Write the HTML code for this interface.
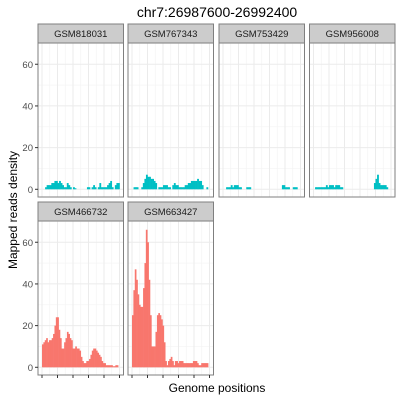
<!DOCTYPE html>
<html><head><meta charset="utf-8"><style>
body{margin:0;background:#fff;width:400px;height:400px;overflow:hidden}
svg{font-family:"Liberation Sans",sans-serif}
</style></head><body>
<svg id="c" width="400" height="400" xmlns="http://www.w3.org/2000/svg">
<text x="217" y="17" text-anchor="middle" font-size="14" fill="#000">chr7:26987600-26992400</text>
<text x="0" y="0" transform="translate(17,210) rotate(-90)" text-anchor="middle" font-size="12" fill="#000">Mapped reads density</text>
<text x="217" y="392" text-anchor="middle" font-size="12" fill="#000">Genome positions</text>
</svg>
<script>
const panelNames=["GSM818031","GSM767343","GSM753429","GSM956008","GSM466732","GSM663427"];
const yTicks=[0,20,40,60];
const s1=[0,0,1,2,2,2,3,3,4,4,3,4,3,2,1,1,3,2,1,0,1,0.5,0,0,0,0,0,0,0,1,1,0,1,2,1,0,1,3,1,1,1,1,2,3,4,1,0,2,3,3];
const s2=[0,1,1,1,0,0,1,3,5,7,6,6,5,5,4,3,0,1,1,1,2,2,2,1,1,0,2,3,2,2,1,1,1,1,2,2,3,3,4,4,4,4,5,4,4,2,0,0,1,0];
const s3=[0,0,1,1,1,2,1,2,2,2,1,1,0,0,0,1,1,1,0,0,0,0,0,0,0,0,0,0,0,0,0,0,0,0,0,0,0,0,2,2,1,1,1,0,0,1,1,1,0,0];
const s4=[0,1,1,1,1,1,1,1,2,1,2,2,2,1,2,2,2,1,1,0,0,0,0,0,0,0,0,0,0,0,0,0,0,0,0,0,0,0,0,3,5,7,3,2,2,2,2,1,0,0];
const s5=[11,12,13,14,12,13,13,14,16,20,24,24,18,14,9,9,12,14,17,16,14,13,9,9,10,9,9,8,5,3,2,2,3,3,4,6,8,9,9,8,7,6,5,3,2,2,1,1,1,1,1,0.5,0.5,1,1,0];
const s6=[25,37,47,42,35,30,29,29,38,50,66,60,42,25,10,10,10,17,25,26,25,23,20,12,3,1,3,4,5,3,1,3,3,2,3,3,3,2,2,2,2,2,2,2,3,3,3,2,1,1,2,2,2,2,2,0];
const series=[s1,s2,s3,s4,s5,s6];
const colors=["#00bfc4","#00bfc4","#00bfc4","#00bfc4","#f8766d","#f8766d"];
const colX=[38,128,219,309.5], pw=85.5, ph=154;
const rowY=[43,221], stripH=19;
const ymin=-3.7, ymax=70.2;
const svg=document.getElementById('c');
const NS="http://www.w3.org/2000/svg";
function mk(t,a,p){const e=document.createElementNS(NS,t);for(const k in a)e.setAttribute(k,a[k]);(p||svg).appendChild(e);return e;}
panelNames.forEach((nm,i)=>{
  const x0=colX[i%4], y0=rowY[Math.floor(i/4)];
  const g=mk('g',{});
  
  
  const ys=v=>y0+ph-(v-ymin)/(ymax-ymin)*ph;
  const xs=f=>x0+4+f*(pw-8);
  // minor grid
  for(let v=10;v<=70;v+=20) mk('line',{x1:x0,x2:x0+pw,y1:ys(v),y2:ys(v),stroke:'#f3f3f3','stroke-width':0.6},g);
  for(let k=0;k<=10;k++){const xx=xs(k/10);mk('line',{x1:xx,x2:xx,y1:y0,y2:y0+ph,stroke:k%2?'#f3f3f3':'#ebebeb','stroke-width':k%2?0.6:1},g);}
  yTicks.forEach(v=>mk('line',{x1:x0,x2:x0+pw,y1:ys(v),y2:ys(v),stroke:'#ebebeb','stroke-width':1},g));
  const d=series[i], n=d.length, bw=(pw-8)/n;
  d.forEach((v,j)=>{
    const r=mk('rect',{x:xs(j/n),y:ys(v),width:bw+0.3,height:Math.max(0,ys(0)-ys(v)),fill:colors[i]},g);
    
    
  });
  mk('rect',{x:x0,y:y0,width:pw,height:ph,fill:'none',stroke:'#7f7f7f','stroke-width':1},g);
  const st=mk('rect',{x:x0,y:y0-stripH,width:pw,height:stripH,fill:'#cccccc',stroke:'#7f7f7f','stroke-width':1},g);
  
  
  const t=mk('text',{x:x0+pw/2,y:y0-stripH/2+3.5,'text-anchor':'middle','font-size':9.5,fill:'#1a1a1a'},g);
  t.textContent=nm;
  
  
  if(i%4===0){
    yTicks.forEach(v=>{
      mk('line',{x1:x0-3,x2:x0,y1:ys(v),y2:ys(v),stroke:'#333','stroke-width':1},g);
      const tl=mk('text',{x:x0-5,y:ys(v)+3.5,'text-anchor':'end','font-size':9.5,fill:'#4d4d4d'},g);
      tl.textContent=v;
      
      
    });
  }
  if(i>=4){
    for(let k=0;k<=10;k+=2){const xx=xs(k/10);mk('line',{x1:xx,x2:xx,y1:y0+ph,y2:y0+ph+3,stroke:'#333','stroke-width':1},g);}
  }
});
</script>
</body></html>
